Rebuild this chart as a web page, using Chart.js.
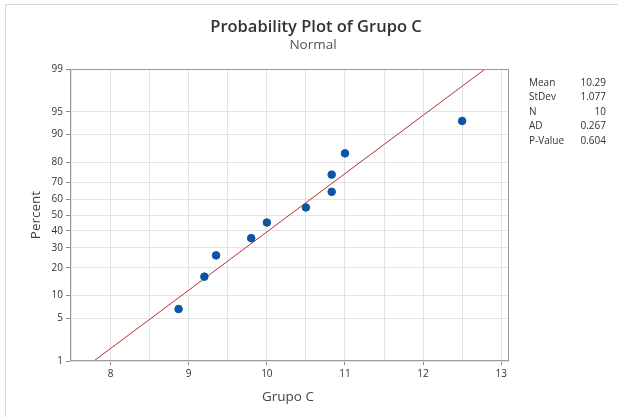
<!DOCTYPE html>
<html>
<head>
<meta charset="utf-8">
<script src="https://cdn.jsdelivr.net/npm/chart.js@4"></script>
<style>
  html, body { margin: 0; padding: 0; background: #fff; }
  #wrap { width: 618px; height: 417px; position: relative; }
</style>
</head>
<body>
<div id="wrap"><canvas id="c" width="618" height="417"></canvas></div>
<script>
// ---- data ----
const grupoC = [8.87, 9.20, 9.35, 9.80, 10.00, 10.50, 10.83, 10.83, 11.00, 12.50];
const percent = [6.7, 16.3, 26.0, 35.6, 45.2, 54.8, 64.4, 74.0, 83.7, 93.3];
const fitX = [7.785, 12.795];
const fitPercent = [1, 99];
const percentTicks = [1, 5, 10, 20, 30, 40, 50, 60, 70, 80, 90, 95, 99];
const xLabelTicks = [8, 9, 10, 11, 12, 13];
const statLabels = ['Mean', 'StDev', 'N', 'AD', 'P-Value'];
const statValues = ['10.29', '1.077', '10', '0.267', '0.604'];
const titleText = 'Probability Plot of Grupo C';
const subtitleText = 'Normal';
const xTitle = 'Grupo C';
const yTitle = 'Percent';

// inverse standard normal CDF (Acklam) – probability-scale transform
function normInv(p) {
  const a = [-39.69683028665376, 220.9460984245205, -275.9285104469687, 138.3577518672690, -30.66479806614716, 2.506628277459239];
  const b = [-54.47609879822406, 161.5858368580409, -155.6989798598866, 66.80131188771972, -13.28068155288572];
  const c = [-0.007784894002430293, -0.3223964580411365, -2.400758277161838, -2.549732539343734, 4.374664141464968, 2.938163982698783];
  const d = [0.007784695709041462, 0.3224671290700398, 2.445134137142996, 3.754408661907416];
  const pl = 0.02425, ph = 1 - pl;
  let q, r;
  if (p < pl) {
    q = Math.sqrt(-2 * Math.log(p));
    return (((((c[0]*q+c[1])*q+c[2])*q+c[3])*q+c[4])*q+c[5]) / ((((d[0]*q+d[1])*q+d[2])*q+d[3])*q+1);
  } else if (p <= ph) {
    q = p - 0.5; r = q * q;
    return (((((a[0]*r+a[1])*r+a[2])*r+a[3])*r+a[4])*r+a[5])*q / (((((b[0]*r+b[1])*r+b[2])*r+b[3])*r+b[4])*r+1);
  } else {
    q = Math.sqrt(-2 * Math.log(1 - p));
    return -(((((c[0]*q+c[1])*q+c[2])*q+c[3])*q+c[4])*q+c[5]) / ((((d[0]*q+d[1])*q+d[2])*q+d[3])*q+1);
  }
}
const z = pc => normInv(pc / 100);

const FONT = "'Open Sans', 'Noto Sans', sans-serif";

const decor = {
  id: 'decor',
  beforeDraw(chart) {
    const ctx = chart.ctx;
    ctx.save();
    ctx.strokeStyle = '#d6d6d6';
    ctx.lineWidth = 1;
    ctx.beginPath();
    ctx.moveTo(5.5, 417); ctx.lineTo(5.5, 4.5); ctx.lineTo(618, 4.5);
    ctx.stroke();
    ctx.restore();
  },
  afterDraw(chart) {
    const ctx = chart.ctx;
    const a = chart.chartArea;
    ctx.save();
    // plot frame
    ctx.strokeStyle = '#9a9a9a';
    ctx.lineWidth = 1;
    ctx.strokeRect(Math.round(a.left) + 0.5, Math.round(a.top) + 0.5,
                   Math.round(a.right - a.left) - 1, Math.round(a.bottom - a.top) - 1);
    // titles
    ctx.textAlign = 'center';
    ctx.textBaseline = 'middle';
    ctx.fillStyle = '#333333';
    ctx.font = "600 16.5px " + FONT;
    ctx.fillText(titleText, 316, 27);
    ctx.fillStyle = '#555555';
    ctx.font = "13.5px " + FONT;
    ctx.fillText(subtitleText, 313, 45);
    // axis titles
    ctx.fillStyle = '#444444';
    ctx.font = "13.5px " + FONT;
    ctx.fillText(xTitle, 288, 397);
    ctx.save();
    ctx.translate(36, 215);
    ctx.rotate(-Math.PI / 2);
    ctx.fillText(yTitle, 0, 0);
    ctx.restore();
    // stats table
    ctx.font = "10px " + FONT;
    ctx.fillStyle = '#333333';
    for (let i = 0; i < statLabels.length; i++) {
      const y = 83 + i * 14.5;
      ctx.textAlign = 'left';
      ctx.fillText(statLabels[i], 529, y);
      ctx.textAlign = 'right';
      ctx.fillText(statValues[i], 606, y);
    }
    ctx.restore();
  }
};

new Chart(document.getElementById('c'), {
  type: 'scatter',
  data: {
    datasets: [
      {
        label: 'Fit',
        type: 'line',
        data: fitX.map((x, i) => ({ x: x, y: z(fitPercent[i]) })),
        borderColor: '#b23333',
        borderWidth: 1,
        pointRadius: 0,
        fill: false,
        order: 2
      },
      {
        label: 'Grupo C',
        data: grupoC.map((x, i) => ({ x: x, y: z(percent[i]) })),
        backgroundColor: '#0a55a5',
        borderColor: '#0a55a5',
        pointRadius: 3.8,
        pointHoverRadius: 3.8,
        order: 1
      }
    ]
  },
  options: {
    responsive: false,
    animation: false,
    devicePixelRatio: 1,
    layout: { padding: { left: 0, right: 109, top: 69, bottom: 0 } },
    plugins: { legend: { display: false }, title: { display: false }, tooltip: { enabled: false } },
    scales: {
      x: {
        type: 'linear',
        min: 7.48, max: 13.1,
        afterFit(s) { s.height = 56; },
        afterBuildTicks(s) {
          const t = [];
          for (let v = 7.5; v <= 13.001; v += 0.5) t.push({ value: Math.round(v * 10) / 10 });
          s.ticks = t;
        },
        grid: {
          color: '#e3e3e3',
          lineWidth: 1,
          drawTicks: true,
          tickLength: 4,
          tickColor: ctx => (ctx.tick && xLabelTicks.includes(ctx.tick.value)) ? '#8a8a8a' : 'rgba(0,0,0,0)'
        },
        border: { display: false },
        ticks: {
          autoSkip: false,
          maxRotation: 0,
          padding: 3,
          color: '#333333',
          font: { family: FONT, size: 10 },
          callback: v => xLabelTicks.includes(v) ? String(v) : ''
        }
      },
      y: {
        type: 'linear',
        min: z(1), max: z(99),
        afterFit(s) { s.width = 70; },
        afterBuildTicks(s) { s.ticks = percentTicks.map(p => ({ value: z(p) })); },
        grid: {
          color: '#e3e3e3',
          lineWidth: 1,
          drawTicks: true,
          tickLength: 4,
          tickColor: '#8a8a8a'
        },
        border: { display: false },
        ticks: {
          autoSkip: false,
          padding: 3,
          color: '#333333',
          font: { family: FONT, size: 10 },
          callback: (v, i) => String(percentTicks[i])
        }
      }
    }
  },
  plugins: [decor]
});
</script>
</body>
</html>
